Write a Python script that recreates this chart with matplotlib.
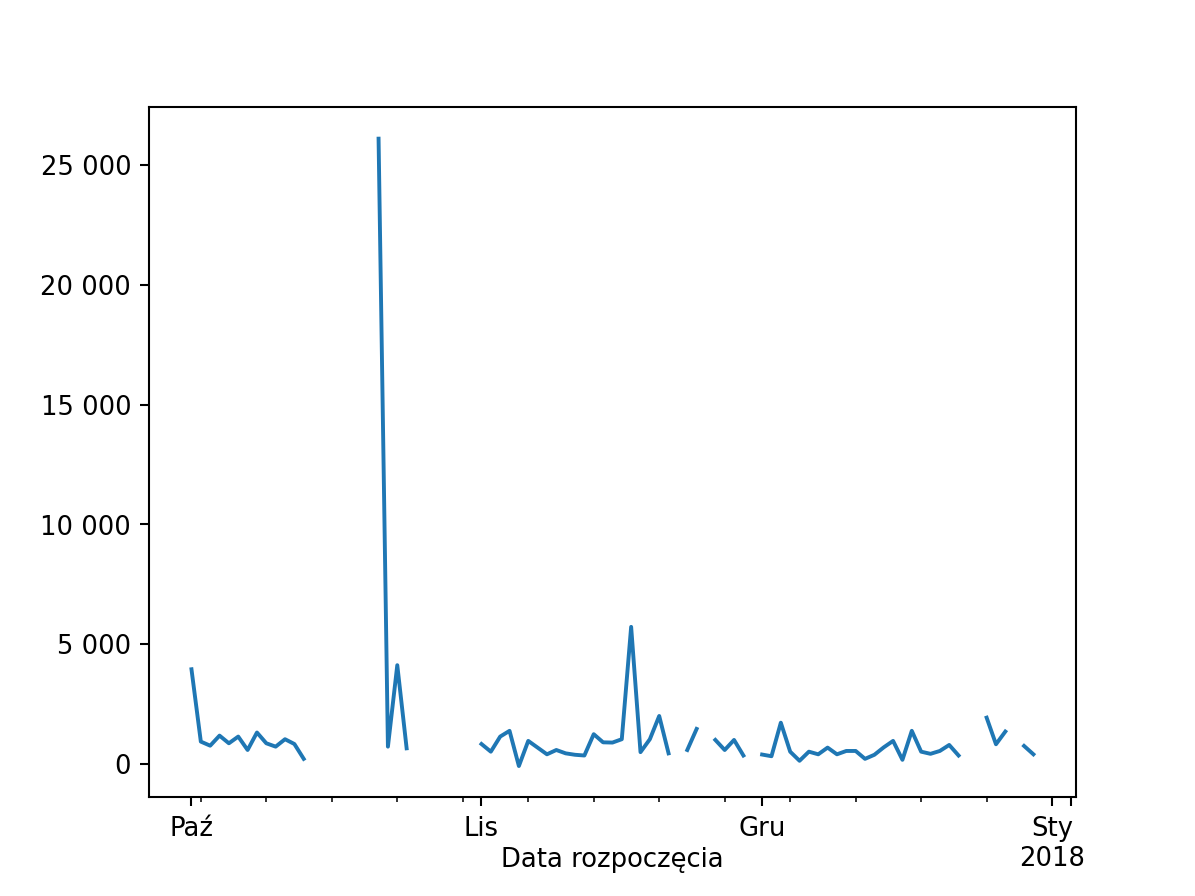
import numpy as np
import pandas as pd
import matplotlib
matplotlib.use("Agg")
import matplotlib.pyplot as plt
import matplotlib.dates as mdates
from matplotlib.ticker import FuncFormatter, FixedLocator, FixedFormatter

nan = np.nan
start_date = "2017-10-01"
end_date = "2017-12-30"
values = [
    3950, 930, 760, 1180, 860, 1140, 580, 1310, 860, 720,
    1030, 830, 210, nan, nan, nan, nan, nan, nan, nan,
    26100, 720, 4120, 650, nan, nan, nan, nan, nan, nan,
    nan, 830, 510, 1140, 1380, -90, 960, 680, 400, 580,
    440, 380, 350, 1240, 900, 890, 1030, 5720, 490, 1030,
    2000, 440, nan, 580, 1460, nan, 1000, 580, 1000, 350,
    nan, 390, 320, 1720, 510, 130, 510, 400, 680, 400,
    540, 540, 210, 380, 690, 960, 170, 1380, 510, 420,
    540, 790, 350, nan, nan, 1930, 820, 1350, nan, 750,
    400,
]
major_dates = ["2017-10-01", "2017-11-01", "2017-12-01", "2018-01-01", "2018-01-03"]
major_labels = ["Paź", "Lis", "Gru", "Sty\n2018", ""]
minor_dates = ["2017-10-02", "2017-10-09", "2017-10-16", "2017-10-23", "2017-10-30",
               "2017-11-06", "2017-11-13", "2017-11-20", "2017-11-27",
               "2017-12-04", "2017-12-11", "2017-12-18", "2017-12-25"]
x_label = "Data rozpoczęcia"

dates = pd.date_range(start_date, end_date, freq="D")
series = pd.Series(values, index=dates, dtype=float)

fig, ax = plt.subplots(figsize=(6.4, 4.8), dpi=1195 / 6.4)
ax.plot(mdates.date2num(series.index.to_pydatetime()), series.values, color="#1f77b4", lw=1.5)

ax.xaxis.set_major_locator(FixedLocator(mdates.date2num(pd.to_datetime(major_dates).to_pydatetime())))
ax.xaxis.set_major_formatter(FixedFormatter(major_labels))
ax.xaxis.set_minor_locator(FixedLocator(mdates.date2num(pd.to_datetime(minor_dates).to_pydatetime())))
ax.yaxis.set_major_formatter(FuncFormatter(lambda v, p: f"{int(round(v)):,}".replace(",", " ")))
ax.set_xlabel(x_label)
ax.xaxis.set_label_coords(0.5, -0.072)

fig.savefig("out.png")
